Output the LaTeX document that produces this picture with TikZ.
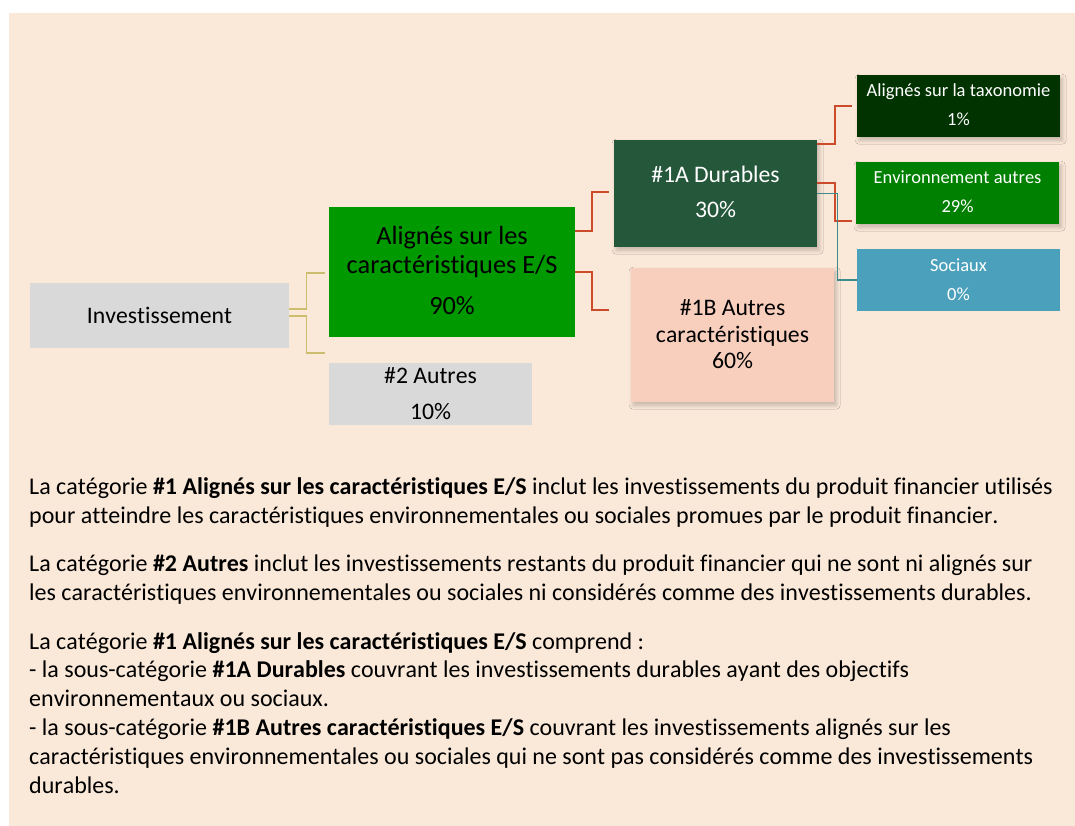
\documentclass[tikz,border=0pt]{standalone}
\usepackage{fontspec}
\setmainfont{Carlito}[Ligatures=NoCommon, Kerning=Off]
\usetikzlibrary{calc,shadows.blur}
\definecolor{bgc}{HTML}{FAE8D8}
\definecolor{cGrey}{HTML}{D9D9D9}
\definecolor{cGreen}{HTML}{009900}
\definecolor{cDur}{HTML}{25573B}
\definecolor{cTax}{HTML}{003300}
\definecolor{cEnv}{HTML}{008000}
\definecolor{cSoc}{HTML}{4BA0BC}
\definecolor{cB}{HTML}{F8CFBD}
\definecolor{cRed}{HTML}{CB4B2B}
\definecolor{cOlive}{HTML}{CDBE6E}
\definecolor{cTeal}{HTML}{3C8C8C}
\newcommand\bodyfnt{\fontsize{24}{29}\selectfont}
\newcommand\bigfnt{\fontsize{23.7}{29}\selectfont}
\newcommand\hugefnt{\fontsize{26.3}{30}\selectfont}
\newcommand\smallfnt{\fontsize{18.5}{24}\selectfont}
\tikzset{
  box/.style={anchor=north west, inner sep=0pt, draw=none},
  shad/.style={blur shadow={shadow xshift=2pt, shadow yshift=-3pt, shadow blur radius=4pt, shadow opacity=22}},
  bt/.style={anchor=base, inner sep=0pt, font=\bigfnt, text=black},
  ht/.style={anchor=base, inner sep=0pt, font=\hugefnt, text=black},
  btw/.style={anchor=base, inner sep=0pt, font=\bigfnt, text=white},
  st/.style={anchor=base, inner sep=0pt, font=\smallfnt, text=white},
  body/.style={anchor=base west, inner sep=0pt, font=\bodyfnt, text=black},
  redc/.style={draw=cRed, line width=2pt},
  olc/.style={draw=cOlive, line width=1.6pt},
  tealc/.style={draw=cTeal, line width=1.6pt},
}
\begin{document}
\begin{tikzpicture}[x=1pt,y=-1pt]
\useasboundingbox (0,0) rectangle (1075,826);
\fill[white] (0,0) rectangle (1075,826);
\fill[bgc] (9,13) rectangle (1075,826);

% boxes
\node[box, fill=cGrey, minimum width=259pt, minimum height=65pt] (inv) at (30,283) {};
\node[box, fill=cGreen, minimum width=246pt, minimum height=130pt] (al) at (329,207) {};
\node[box, fill=cGrey, minimum width=203pt, minimum height=62pt] (oth) at (329,363) {};
\node[box, shad, fill=cDur, minimum width=203pt, minimum height=107pt] (dur) at (614,140) {};
\node[box, shad, fill=cB, minimum width=203pt, minimum height=134pt] (b) at (631,268) {};
\node[box, shad, fill=cTax, minimum width=203pt, minimum height=62pt] (tax) at (857,75) {};
\node[box, shad, fill=cEnv, minimum width=203pt, minimum height=62pt] (env) at (856,162) {};
\node[box, fill=cSoc, minimum width=203pt, minimum height=62pt] (soc) at (857,249) {};

% box texts
\node[bt] (invt) at (159.5,323) {Investissement};
\node[ht] (alt1) at (452,244.3) {Alignés sur les};
\node[ht] (alt2) at (452,273.3) {caractéristiques E/S};
\node[ht] (alt3) at (452,314) {90\%};
\node[bt] (otht1) at (430.5,383) {\#2 Autres};
\node[bt] (otht2) at (430.5,419) {10\%};
\node[btw] (durt1) at (715.5,182.7) {\#1A Durables};
\node[btw] (durt2) at (715.5,217.7) {30\%};
\node[bt] (bt1) at (732.5,315) {\#1B Autres};
\node[bt] (bt2) at (732.5,342) {caractéristiques};
\node[bt] (bt3) at (732.5,368) {60\%};
\node[st] (taxt1) at (958.5,97) {Alignés sur la taxonomie};
\node[st] (taxt2) at (958.5,126) {1\%};
\node[st] (envt1) at (957.5,184) {Environnement autres};
\node[st] (envt2) at (957.5,213) {29\%};
\node[st] (soct1) at (958.5,271) {Sociaux};
\node[st] (soct2) at (958.5,300) {0\%};

% connectors
\draw[olc] ($(inv.east)+(0,-6.5)$) -- ++(17,0) |- ($(al.west)+(-4,1)$);
\draw[olc] ($(inv.east)+(0,0.5)$) -- ++(17,0) |- ($(oth.north west)+(-4,-10)$);
\draw[redc] ($(al.east)+(0,-41)$) -- ++(17,0) |- ($(dur.west)+(-5,-1.5)$);
\draw[redc] (al.east) -- ++(17,0) |- ($(b.west)+(-22,-25)$);
\draw[redc] ($(dur.north east)+(0,4)$) -- ++(18,0) |- ($(tax.west)+(-5,0)$);
\draw[redc] ($(dur.east)+(0,-10.5)$) -- ++(18,0) |- ($(env.south west)+(-4,-3)$);
\draw[tealc] (dur.east) -- ++(20,0) |- (soc.west);

% body text
\node[body] (p1) at (29,494) {La catégorie \textbf{\#1 Alignés sur les caractéristiques E/S} inclut les investissements du produit financier utilisés};
\node[body] (p2) at (29,523.3) {pour atteindre les caractéristiques environnementales ou sociales promues par le produit financier.};
\node[body] (p3) at (29,571) {La catégorie \textbf{\#2 Autres} inclut les investissements restants du produit financier qui ne sont ni alignés sur};
\node[body] (p4) at (29,600.5) {les caractéristiques environnementales ou sociales ni considérés comme des investissements durables.};
\node[body] (p5) at (29,649) {La catégorie \textbf{\#1 Alignés sur les caractéristiques E/S} comprend :};
\node[body] (p6) at (29,677.7) {- la sous-catégorie \textbf{\#1A Durables} couvrant les investissements durables ayant des objectifs};
\node[body] (p7) at (29,706.7) {environnementaux ou sociaux.};
\node[body] (p8) at (29,735.3) {- la sous-catégorie \textbf{\#1B Autres caractéristiques E/S} couvrant les investissements alignés sur les};
\node[body] (p9) at (29,764.7) {caractéristiques environnementales ou sociales qui ne sont pas considérés comme des investissements};
\node[body] (p10) at (29,793.3) {durables.};
\end{tikzpicture}
\end{document}
